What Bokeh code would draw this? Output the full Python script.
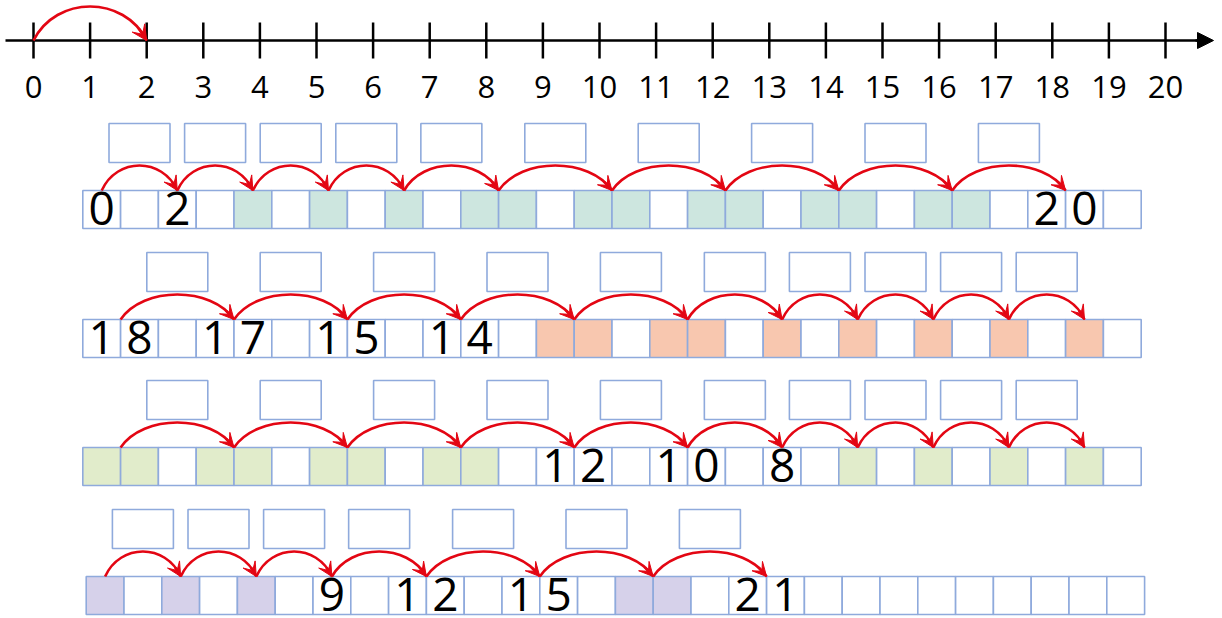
from bokeh.plotting import figure
from bokeh.models import Range1d, ColumnDataSource, Arrow, VeeHead, NormalHead
from bokeh.core.properties import value
from bokeh.embed import file_html
from bokeh.resources import INLINE

# ---------------- data ----------------
ticks = list(range(21))
tick_labels = [str(t) for t in ticks]
hop_from, hop_to = 0, 2

n_cells = 28
row1_starts = [0, 2, 4, 6, 8, 10, 13, 16, 19, 22, 25]
row1_widths = [1, 1, 1, 1, 1, 2, 2, 2, 2, 2, 2]
row1_labels = ["0", "2", "", "", "", "", "", "", "", "", "20"]

row2_starts = [0, 3, 6, 9, 12, 15, 18, 20, 22, 24, 26]
row2_widths = [2, 2, 2, 2, 2, 2, 1, 1, 1, 1, 1]
row2_labels = ["18", "17", "15", "14", "", "", "", "", "", "", ""]

row3_starts = [0, 3, 6, 9, 12, 15, 18, 20, 22, 24, 26]
row3_widths = [2, 2, 2, 2, 2, 2, 1, 1, 1, 1, 1]
row3_labels = ["", "", "", "", "12", "10", "8", "", "", "", ""]

row4_starts = [0, 2, 4, 6, 8, 11, 14, 17]
row4_widths = [1, 1, 1, 1, 2, 2, 2, 2]
row4_labels = ["", "", "", "9", "12", "15", "", "21"]

row_fills = ["#CDE6DF", "#F8C7AF", "#E1ECCB", "#D6D1EA"]

# ---------------- layout ----------------
W, H = 1220, 618
RED = "#E30613"
BORDER = "#8FAADC"
NL_X0, NL_UNIT, NL_Y = 33.0, 56.6, 40.0
CELL_W, CELL_H = 37.8, 38.0
row_x0 = [82.3, 82.3, 82.3, 85.7]
row_top = [190.0, 319.0, 447.0, 576.0]
BOX_W, BOX_H = 61.0, 39.0
ARC_H = 25.0

p = figure(width=W, height=H, x_range=Range1d(0, W), y_range=Range1d(H, 0),
           output_backend="svg", toolbar_location=None, min_border=0,
           x_axis_location=None, y_axis_location=None)
p.grid.visible = False
p.outline_line_color = None
p.background_fill_color = "white"


def bez_point(t, P0, P1, P2, P3):
    u = 1 - t
    return (u**3 * P0[0] + 3 * u * u * t * P1[0] + 3 * u * t * t * P2[0] + t**3 * P3[0],
            u**3 * P0[1] + 3 * u * u * t * P1[1] + 3 * u * t * t * P2[1] + t**3 * P3[1])


def draw_hops(xs0, xs1, y, h, width=2.6, head=14):
    ctrl_h = h / 0.75
    bx0, by0, bx1, by1, c0x, c0y, c1x, c1y = [], [], [], [], [], [], [], []
    ax0, ay0, ax1, ay1 = [], [], [], []
    for a, b in zip(xs0, xs1):
        w = b - a
        P0, P1, P2, P3 = (a, y), (a + 0.2 * w, y - ctrl_h), (b - 0.2 * w, y - ctrl_h), (b, y)
        bx0.append(a); by0.append(y); bx1.append(b); by1.append(y)
        c0x.append(P1[0]); c0y.append(P1[1]); c1x.append(P2[0]); c1y.append(P2[1])
        q = bez_point(0.9, P0, P1, P2, P3)
        ax0.append(q[0]); ay0.append(q[1]); ax1.append(b); ay1.append(y)
    p.bezier(x0=bx0, y0=by0, x1=bx1, y1=by1, cx0=c0x, cy0=c0y, cx1=c1x, cy1=c1y,
             line_color=RED, line_width=width)
    src = ColumnDataSource(dict(x0=ax0, y0=ay0, x1=ax1, y1=ay1))
    p.add_layout(Arrow(x_start="x0", y_start="y0", x_end="x1", y_end="y1", source=src,
                       line_color=RED, line_width=width,
                       end=VeeHead(size=head, fill_color=RED, line_color=RED)))


# ---------------- number line ----------------
tx = [NL_X0 + NL_UNIT * t for t in ticks]
p.segment(x0=[NL_X0 - 28], y0=[NL_Y], x1=[NL_X0 + NL_UNIT * 20 + 40], y1=[NL_Y],
          line_color="black", line_width=2.5)
p.add_layout(Arrow(x_start=NL_X0 + NL_UNIT * 20 + 30, y_start=NL_Y,
                   x_end=NL_X0 + NL_UNIT * 20 + 48, y_end=NL_Y, line_color="black", line_width=2.5,
                   end=NormalHead(size=16, fill_color="black", line_color="black")))
p.segment(x0=tx, y0=[NL_Y - 18] * len(tx), x1=tx, y1=[NL_Y + 18] * len(tx),
          line_color="black", line_width=2.5)
p.text(x=tx, y=[NL_Y + 46] * len(tx), text=tick_labels, text_align="center",
       text_baseline="middle", text_font=value("Open Sans"), text_font_size="31px",
       text_color="black")
draw_hops([NL_X0 + NL_UNIT * hop_from], [NL_X0 + NL_UNIT * hop_to], NL_Y, 34, width=2.6, head=15)

# ---------------- rows ----------------
rows = [(row1_starts, row1_widths, row1_labels),
        (row2_starts, row2_widths, row2_labels),
        (row3_starts, row3_widths, row3_labels),
        (row4_starts, row4_widths, row4_labels)]

for r, (starts, widths, labels) in enumerate(rows):
    x0, top = row_x0[r], row_top[r]
    bot = top + CELL_H
    fills = ["white"] * n_cells
    dx, dy, dt = [], [], []
    for s, w, lab in zip(starts, widths, labels):
        if lab == "":
            for k in range(w):
                fills[s + k] = row_fills[r]
        else:
            for k, ch in enumerate(lab):
                dx.append(x0 + (s + k + 0.5) * CELL_W)
                dy.append(top + CELL_H / 2 - 1)
                dt.append(ch)
    lefts = [x0 + i * CELL_W for i in range(n_cells)]
    p.quad(left=lefts, right=[l + CELL_W for l in lefts], top=[top] * n_cells,
           bottom=[bot] * n_cells, fill_color=fills, line_color=BORDER, line_width=1.6)
    p.text(x=dx, y=dy, text=dt, text_align="center", text_baseline="middle",
           text_font=value("Open Sans"), text_font_size="46px", text_color="black")
    centers = [x0 + (s + w / 2) * CELL_W for s, w in zip(starts, widths)]
    a_from, a_to = centers[:-1], centers[1:]
    draw_hops(a_from, a_to, top, ARC_H)
    mids = [(a + b) / 2 for a, b in zip(a_from, a_to)]
    btop = top - ARC_H - 3 - BOX_H
    p.quad(left=[m - BOX_W / 2 for m in mids], right=[m + BOX_W / 2 for m in mids],
           top=[btop] * len(mids), bottom=[btop + BOX_H] * len(mids),
           fill_color="white", line_color=BORDER, line_width=1.6)

open("out.html", "w").write(file_html(p, INLINE))
